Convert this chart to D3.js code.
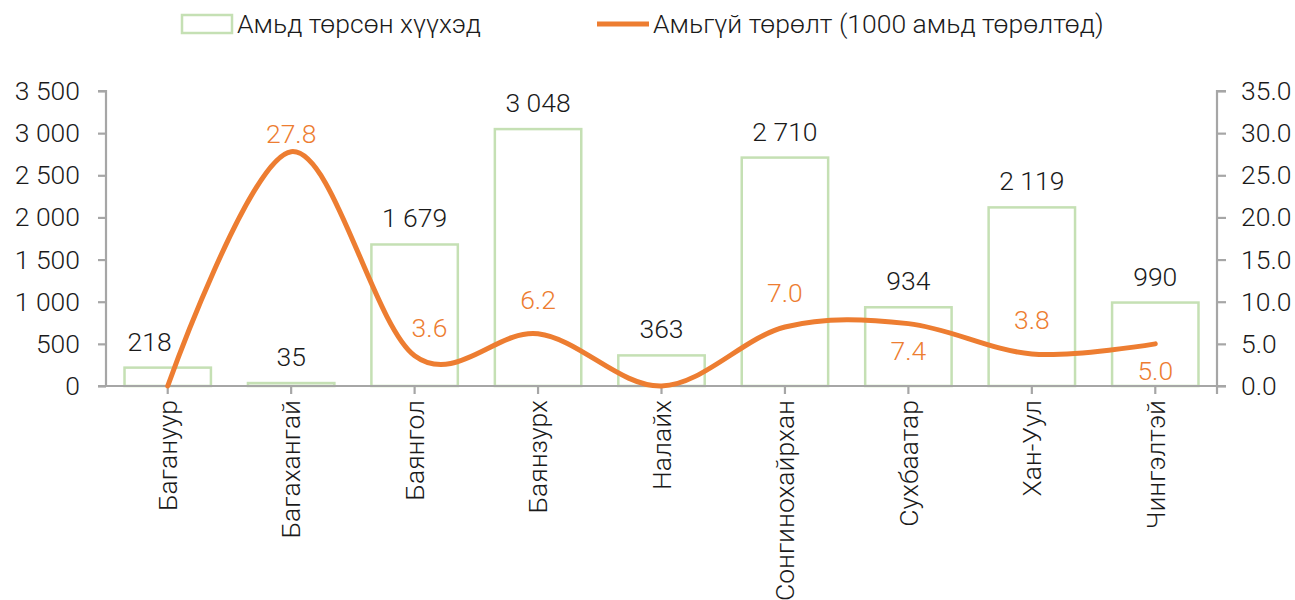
<!DOCTYPE html>
<html>
<head>
<meta charset="utf-8">
<script src="https://cdn.jsdelivr.net/npm/d3@7"></script>
<style>
  html, body { margin: 0; padding: 0; background: #fff; }
  svg { display: block; font-family: Roboto, "Noto Sans", sans-serif; font-weight: 300; }
</style>
</head>
<body>
<svg id="chart" width="1295" height="600"></svg>
<script>
// ---- data ----
const categories = ["Багануур", "Багахангай", "Баянгол", "Баянзурх", "Налайх", "Сонгинохайрхан", "Сухбаатар", "Хан-Уул", "Чингэлтэй"];
const liveBirths = [218, 35, 1679, 3048, 363, 2710, 934, 2119, 990];
const stillbirthRate = [0.0, 27.8, 3.6, 6.2, 0.0, 7.0, 7.4, 3.8, 5.0];
const rateLabelPlacement = ["none", "near-above", "right", "above", "none", "above", "below", "above", "below"];
const barLabelPlacement = ["left", "center", "center", "center", "center", "center", "center", "center", "center"];
const leftTicks = [0, 500, 1000, 1500, 2000, 2500, 3000, 3500];
const rightTicks = [0, 5, 10, 15, 20, 25, 30, 35];
const seriesNames = ["Амьд төрсөн хүүхэд", "Амьгүй төрөлт (1000 амьд төрөлтөд)"];

// ---- layout ----
const svg = d3.select("#chart");
const plot = { left: 106, right: 1217, top: 91, bottom: 386 };
const barColor = "#C5E0B4";
const lineColor = "#ED7D31";
const axisColor = "#A6A6A6";
const textColor = "#1a1a1a";
const fs = 26.5;

const x = d3.scaleBand().domain(categories).range([plot.left, plot.right]).paddingInner(0).paddingOuter(0);
const yL = d3.scaleLinear().domain([0, 3500]).range([plot.bottom, plot.top]);
const yR = d3.scaleLinear().domain([0, 35]).range([plot.bottom, plot.top]);

const loc = d3.formatLocale({ decimal: ".", thousands: " ", grouping: [3], currency: ["", ""] });
const fmtInt = loc.format(",");
const fmtDec = d3.format(".1f");

const barW = x.bandwidth() * 0.7;

// bars
svg.append("g").selectAll("rect").data(categories).join("rect")
  .attr("x", (d) => x(d) + (x.bandwidth() - barW) / 2)
  .attr("y", (d, i) => yL(liveBirths[i]))
  .attr("width", barW)
  .attr("height", (d, i) => plot.bottom - yL(liveBirths[i]))
  .attr("fill", "none")
  .attr("stroke", barColor)
  .attr("stroke-width", 2.5);

// axes
const gL = svg.append("g").attr("transform", `translate(${plot.left},0)`)
  .call(d3.axisLeft(yL).tickValues(leftTicks).tickFormat(fmtInt).tickSize(8).tickPadding(18));
const gR = svg.append("g").attr("transform", `translate(${plot.right},0)`)
  .call(d3.axisRight(yR).tickValues(rightTicks).tickFormat(fmtDec).tickSize(9).tickPadding(15));
const gX = svg.append("g").attr("transform", `translate(0,${plot.bottom})`)
  .call(d3.axisBottom(x).tickSize(8).tickPadding(6));

[gL, gR, gX].forEach(g => {
  g.selectAll(".domain").attr("stroke", axisColor).attr("stroke-width", 2.2);
  g.selectAll(".tick line").attr("stroke", axisColor).attr("stroke-width", 2.2);
  g.selectAll("text").attr("fill", textColor).style("font-size", fs + "px").style("font-family", "Roboto").style("font-weight", 300);
});
gL.select(".domain").attr("d", `M-8,${plot.top}H0V${plot.bottom}`);
gR.select(".domain").attr("d", `M9,${plot.top}H0V${plot.bottom + 8}`);
gX.select(".domain").attr("d", `M${plot.left - 8},0H${plot.right + 9}`);

gX.selectAll(".tick text")
  .attr("transform", "rotate(-90)")
  .attr("text-anchor", "end")
  .attr("x", -14)
  .attr("y", 0)
  .attr("dy", "0.35em");

// line
const lineGen = d3.line()
  .x((d, i) => x(categories[i]) + x.bandwidth() / 2)
  .y((d) => yR(d))
  .curve(d3.curveCatmullRom.alpha(0));

svg.append("path")
  .datum(stillbirthRate)
  .attr("d", lineGen)
  .attr("fill", "none")
  .attr("stroke", lineColor)
  .attr("stroke-width", 5)
  .attr("stroke-linecap", "round");

// bar labels
svg.append("g").selectAll("text").data(categories).join("text")
  .attr("x", (d, i) => x(d) + x.bandwidth() / 2 - (barLabelPlacement[i] === "left" ? barW * 0.21 : 0))
  .attr("y", (d, i) => yL(liveBirths[i]) - 17)
  .attr("text-anchor", "middle")
  .attr("fill", textColor)
  .style("font-size", fs + "px")
  .text((d, i) => fmtInt(liveBirths[i]));

// line labels
svg.append("g").selectAll("text").data(categories).join("text")
  .filter((d, i) => rateLabelPlacement[i] !== "none")
  .each(function (d) {
    const i = categories.indexOf(d);
    const cx = x(d) + x.bandwidth() / 2;
    const cy = yR(stillbirthRate[i]);
    const p = rateLabelPlacement[i];
    const t = d3.select(this);
    t.attr("fill", lineColor).style("font-size", fs + "px").text(fmtDec(stillbirthRate[i]));
    if (p === "above") t.attr("x", cx).attr("y", cy - 25).attr("text-anchor", "middle");
    else if (p === "near-above") t.attr("x", cx).attr("y", cy - 9).attr("text-anchor", "middle");
    else if (p === "below") t.attr("x", cx).attr("y", cy + 36).attr("text-anchor", "middle");
    else t.attr("x", cx - 3).attr("y", cy - 19).attr("text-anchor", "start");
  });

// legend
const leg = svg.append("g");
leg.append("rect").attr("x", 182).attr("y", 15).attr("width", 50).attr("height", 18)
  .attr("fill", "none").attr("stroke", barColor).attr("stroke-width", 2.5);
leg.append("text").attr("x", 237).attr("y", 33).attr("fill", textColor)
  .style("font-size", fs + "px").text(seriesNames[0]);
leg.append("line").attr("x1", 597).attr("x2", 649).attr("y1", 24).attr("y2", 24)
  .attr("stroke", lineColor).attr("stroke-width", 5);
leg.append("text").attr("x", 653).attr("y", 33).attr("fill", textColor)
  .style("font-size", fs + "px").text(seriesNames[1]);
</script>
</body>
</html>
